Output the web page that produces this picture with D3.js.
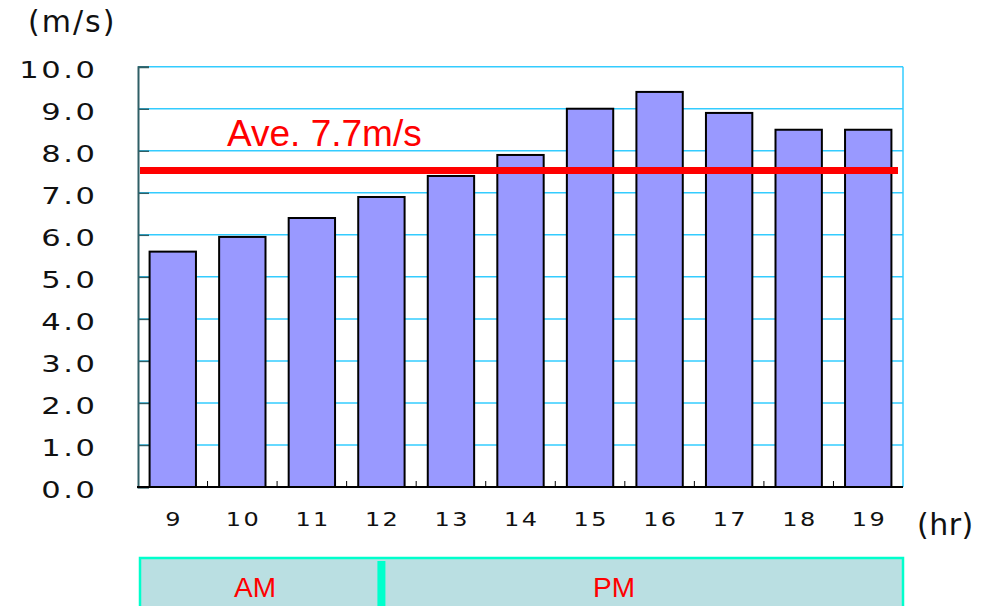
<html>
<head>
<meta charset="utf-8">
<style>
  body { margin: 0; background: white; }
  text { font-family: "DejaVu Sans", sans-serif; }
</style>
</head>
<body>
<svg class="chart"></svg>
<script src="https://d3js.org/d3.v7.min.js"></script>
<script>
  var hours = ["9", "10", "11", "12", "13", "14", "15", "16", "17", "18", "19"];
  var speeds = [5.6, 5.95, 6.4, 6.9, 7.4, 7.9, 9.0, 9.4, 8.9, 8.5, 8.5];
  var yTicks = [0, 1, 2, 3, 4, 5, 6, 7, 8, 9, 10];
  var aveLabel = "Ave. 7.7m/s";
  var aveLevel = 7.53;
  var periods = ["AM", "PM"];

  var width = 995, height = 606;
  var plotLeft = 138, plotRight = 903, plotTop = 66.7, plotBottom = 487;

  var svg = d3.select(".chart").attr("width", width).attr("height", height);

  var x = d3.scaleBand().domain(hours).range([plotLeft, plotRight]).paddingInner(1/3).paddingOuter(1/6);
  var xPos = d3.scalePoint().domain(hours).range([plotLeft, plotRight]).padding(0.5);
  var y = d3.scaleLinear().domain([0, 10]).range([plotBottom, plotTop]);

  // grid
  svg.append("g").selectAll("line")
    .data(yTicks.filter(function(d) { return d > 0; }))
    .enter().append("line")
      .attr("x1", plotLeft).attr("x2", plotRight)
      .attr("y1", function(d) { return y(d); }).attr("y2", function(d) { return y(d); })
      .attr("stroke", "#33ccff").attr("stroke-width", 1.5);
  svg.append("line")
    .attr("x1", plotRight).attr("x2", plotRight).attr("y1", plotTop).attr("y2", plotBottom)
    .attr("stroke", "#33ccff").attr("stroke-width", 1.5);

  // y axis (wide digits: stretch horizontally)
  var stretch = 1.3, ySpacing = 2;
  var yAxis = d3.axisLeft(y).tickValues(yTicks).tickFormat(d3.format(".1f")).tickSize(-11);
  var gy = svg.append("g").attr("transform", "translate(" + plotLeft + ",0)").call(yAxis);
  gy.select(".domain").attr("stroke", "#2f5f66").attr("stroke-width", 2);
  gy.selectAll(".tick line").attr("stroke", "#2f5f66").attr("stroke-width", 1.5);
  gy.selectAll(".tick text")
    .attr("x", 0)
    .attr("transform", "translate(" + (95 - plotLeft + ySpacing * stretch) + ",0) scale(" + stretch + ",1)")
    .attr("font-size", 23.5).attr("letter-spacing", ySpacing).attr("dy", "0.45em").attr("fill", "#111");

  // bars
  svg.append("g").selectAll("rect")
    .data(speeds)
    .enter().append("rect")
      .attr("x", function(d, i) { return x(hours[i]); })
      .attr("width", x.bandwidth())
      .attr("y", function(d) { return y(d); })
      .attr("height", function(d) { return y(0) - y(d); })
      .attr("fill", "#9999ff")
      .attr("stroke", "#000").attr("stroke-width", 2);

  // x axis
  var step = (plotRight - plotLeft) / hours.length;
  var xSpacing = 2, xStretch = 1.2;
  var gx = svg.append("g").attr("transform", "translate(0," + plotBottom + ")");
  gx.append("line").attr("x1", plotLeft - 1).attr("x2", plotRight).attr("stroke", "#000").attr("stroke-width", 2);
  gx.selectAll(".tk")
    .data(hours.slice(1))
    .enter().append("line")
      .attr("x1", function(d) { return xPos(d) - step / 2; })
      .attr("x2", function(d) { return xPos(d) - step / 2; })
      .attr("y1", 0).attr("y2", -6)
      .attr("stroke", "#000").attr("stroke-width", 1);
  gx.selectAll(".lbl")
    .data(hours)
    .enter().append("text")
      .attr("transform", function(d) {
        return "translate(" + (xPos(d) + xSpacing * xStretch / 2) + ",39) scale(" + xStretch + ",1)";
      })
      .attr("text-anchor", "middle")
      .attr("font-size", 20).attr("letter-spacing", xSpacing)
      .attr("fill", "#111")
      .text(function(d) { return d; });

  // average line
  svg.append("line")
    .attr("x1", plotLeft + 2).attr("x2", plotRight - 5)
    .attr("y1", y(aveLevel)).attr("y2", y(aveLevel))
    .attr("stroke", "#ff0000").attr("stroke-width", 7);
  svg.append("text")
    .attr("x", 227).attr("y", 146)
    .style("font-family", "'Liberation Sans', Arial, sans-serif")
    .attr("font-size", 37).attr("fill", "#ff0000")
    .text(aveLabel);

  // units
  svg.append("text").attr("x", 28).attr("y", 32).attr("font-size", 30).attr("letter-spacing", 2).attr("fill", "#111").text("(m/s)");
  svg.append("text").attr("x", 917).attr("y", 535).attr("font-size", 30).attr("letter-spacing", 0.5).attr("fill", "#111").text("(hr)");

  // AM / PM band
  var bandTop = 558;
  svg.append("rect")
    .attr("x", plotLeft + 2).attr("y", bandTop)
    .attr("width", plotRight - plotLeft - 2).attr("height", height - bandTop + 5)
    .attr("fill", "#badfe2").attr("stroke", "#00ffcc").attr("stroke-width", 2.5);
  var noon = xPos("12");
  svg.append("rect")
    .attr("x", noon - 4).attr("y", bandTop + 3).attr("width", 8).attr("height", height - bandTop)
    .attr("fill", "#00ffcc");
  var periodX = [255, 614];
  svg.selectAll(".period")
    .data(periods)
    .enter().append("text")
      .attr("x", function(d, i) { return periodX[i]; })
      .attr("y", 597)
      .attr("text-anchor", "middle")
      .style("font-family", "'Liberation Sans', Arial, sans-serif")
      .attr("font-size", 28).attr("fill", "#ff0000")
      .text(function(d) { return d; });
</script>
</body>
</html>
